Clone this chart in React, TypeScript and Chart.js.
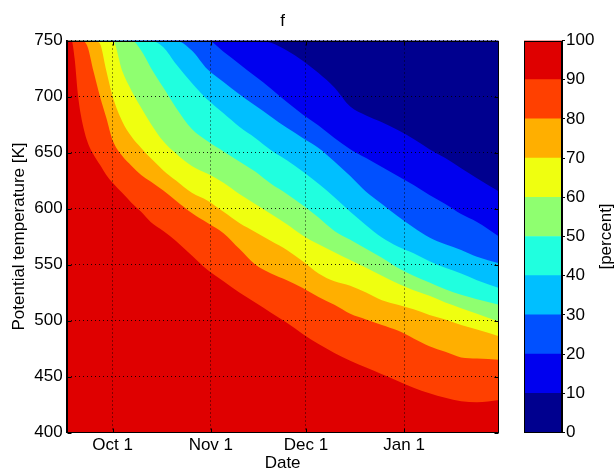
import { useEffect, useRef } from 'react';
import { Chart, registerables } from 'chart.js';

Chart.register(...registerables);

// Days relative to Oct 1
const DAYS = [-15, -13, -12, -11, -10, -8, -6, -4, -2, 0, 3, 6, 9, 12, 16, 20, 25, 30, 35, 40, 45, 50, 55, 60, 65, 70, 75, 80, 85, 90, 95, 100, 105, 110, 115, 122];
const TICK_DAYS = [0, 31, 61, 92];
const TICK_LABELS = ['Oct 1', 'Nov 1', 'Dec 1', 'Jan 1'];
const LEVELS = [0, 10, 20, 30, 40, 50, 60, 70, 80, 90, 100];

// Potential temperature [K] of each contour boundary (value >= level below the line)
const B10 = [750, 750, 750, 750, 750, 750, 750, 750, 750, 750, 750, 750, 750, 750, 750, 750, 750, 750, 750, 750, 750, 748, 741, 732, 721, 708, 691, 683, 677, 670, 662, 653, 645, 636, 627, 615];
const B20 = [750, 750, 750, 750, 750, 750, 750, 750, 750, 750, 750, 750, 750, 750, 750, 750, 750, 750, 740, 729, 718, 707, 695, 684, 674, 663, 653, 645, 637, 629, 621, 612, 604, 595, 588, 575];
const B30 = [750, 750, 750, 750, 750, 750, 750, 750, 750, 750, 750, 750, 750, 750, 750, 750, 741, 724, 713, 702, 692, 682, 672, 663, 654, 642, 629, 615, 604, 593, 583, 574, 568, 563, 557, 551];
const B40 = [750, 750, 750, 750, 750, 750, 750, 750, 750, 750, 750, 750, 750, 750, 744, 729, 712, 697, 685, 673, 663, 652, 643, 633, 622, 610, 597, 585, 574, 566, 560, 553, 547, 542, 536, 529];
const B50 = [750, 750, 750, 750, 750, 750, 750, 750, 750, 750, 750, 750, 741, 726, 708, 690, 671, 660, 651, 642, 633, 622, 613, 603, 592, 580, 572, 564, 556, 547, 540, 534, 528, 523, 519, 514];
const B60 = [750, 750, 750, 750, 750, 750, 750, 750, 750, 750, 723, 705, 690, 676, 660, 649, 638, 631, 623, 613, 604, 595, 586, 576, 568, 561, 554, 547, 540, 533, 527, 522, 516, 511, 506, 499];
const B70 = [750, 750, 750, 750, 750, 750, 750, 747, 723, 700, 678, 664, 654, 645, 634, 625, 614, 607, 597, 587, 579, 571, 563, 553, 542, 535, 531, 525, 518, 514, 510, 505, 501, 496, 492, 486];
const B80 = [750, 750, 750, 750, 750, 745, 722, 700, 681, 661, 647, 638, 630, 624, 616, 607, 596, 587, 578, 564, 550, 542, 536, 529, 521, 514, 506, 501, 496, 491, 484, 477, 472, 467, 466, 465];
const B90 = [750, 750, 734, 703, 683, 660, 648, 639, 630, 623, 614, 605, 597, 588, 580, 571, 558, 545, 535, 525, 516, 507, 498, 488, 479, 471, 464, 458, 452, 446, 440, 435, 431, 428, 427, 429];

const BOUNDARIES = [B10, B20, B30, B40, B50, B60, B70, B80, B90];

const BAND_COLORS = [
  'rgb(0,0,143)',
  'rgb(0,0,239)',
  'rgb(0,80,255)',
  'rgb(0,191,255)',
  'rgb(32,255,223)',
  'rgb(143,255,112)',
  'rgb(239,255,16)',
  'rgb(255,175,0)',
  'rgb(255,64,0)',
  'rgb(223,0,0)',
];

const FONT = "'Liberation Sans', Arial, Helvetica, sans-serif";
const FS = 17;

const boxPlugin = {
  id: 'boxAndTicks',
  beforeDatasetsDraw(chart: any, _args: any, opts: any) {
    if (!opts || !opts.background) return;
    const { ctx, chartArea } = chart;
    ctx.save();
    ctx.fillStyle = opts.background;
    ctx.fillRect(chartArea.left, chartArea.top, chartArea.right - chartArea.left, chartArea.bottom - chartArea.top);
    ctx.restore();
  },
  afterDraw(chart: any, _args: any, opts: any) {
    const { ctx, chartArea } = chart;
    const l = Math.round(chartArea.left) + 0.5;
    const t = Math.round(chartArea.top) + 0.5;
    const r = Math.round(chartArea.right) - 0.5;
    const b = Math.round(chartArea.bottom) - 0.5;
    ctx.save();
    ctx.strokeStyle = '#000';
    ctx.lineWidth = 1;
    ctx.strokeRect(l, t, r - l, b - t);
    if (opts && opts.inwardTicks) {
      const len = 4;
      ctx.beginPath();
      const xs = chart.scales.x;
      xs.ticks.forEach((tk: any) => {
        const px = Math.round(xs.getPixelForValue(tk.value)) + 0.5;
        ctx.moveTo(px, b);
        ctx.lineTo(px, b - len);
        ctx.moveTo(px, t);
        ctx.lineTo(px, t + len);
      });
      const ys = chart.scales.y;
      ys.ticks.forEach((tk: any) => {
        const py = Math.round(ys.getPixelForValue(tk.value)) + 0.5;
        ctx.moveTo(l, py);
        ctx.lineTo(l + len, py);
        ctx.moveTo(r, py);
        ctx.lineTo(r - len, py);
      });
      ctx.stroke();
    }
    ctx.restore();
  },
};

export default function App() {
  const mainRef = useRef<HTMLCanvasElement>(null);
  const barRef = useRef<HTMLCanvasElement>(null);
  const labRef = useRef<HTMLCanvasElement>(null);

  useEffect(() => {
    Chart.defaults.font.family = FONT;
    Chart.defaults.font.size = FS;
    Chart.defaults.color = '#000';

    const datasets = BOUNDARIES.map((bnd, k) => ({
      label: `${LEVELS[k + 1]}-${LEVELS[k + 2]}`,
      data: DAYS.map((d, i) => ({ x: d, y: bnd[i] })),
      backgroundColor: BAND_COLORS[k + 1],
      borderColor: 'rgba(0,0,0,0)',
      borderWidth: 0,
      pointRadius: 0,
      cubicInterpolationMode: 'monotone',
      fill: 'start',
      order: BOUNDARIES.length - 1 - k,
    }));

    const gridOpts = { color: 'rgba(0,0,0,0.85)', lineWidth: 1, drawTicks: false, z: 1 };
    const borderOpts = { display: true, color: '#000', width: 1, dash: [1, 3], z: 1 };

    const main = new Chart(mainRef.current!, {
      type: 'line',
      data: { datasets } as any,
      plugins: [boxPlugin],
      options: {
        responsive: false,
        animation: false,
        layout: { padding: { left: 0, right: 115.5, top: 0, bottom: 0 } },
        plugins: {
          legend: { display: false },
          tooltip: { enabled: false },
          title: {
            display: true,
            text: 'f',
            fullSize: false,
            color: '#000',
            font: { size: FS, weight: 'normal', family: FONT },
            padding: { top: 11.2, bottom: 8.9 },
          },
          boxAndTicks: { background: BAND_COLORS[0], inwardTicks: true },
        } as any,
        scales: {
          x: {
            type: 'linear',
            min: -14.5,
            max: 121.8,
            afterBuildTicks: (s: any) => {
              s.ticks = TICK_DAYS.map((v) => ({ value: v }));
            },
            afterFit: (s: any) => {
              s.height = 37.5;
            },
            ticks: {
              autoSkip: false,
              maxRotation: 0,
              padding: 3,
              color: '#000',
              callback: (v: any) => {
                const i = TICK_DAYS.indexOf(Number(v));
                return i >= 0 ? TICK_LABELS[i] : '';
              },
            },
            grid: gridOpts,
            border: borderOpts,
            title: {
              display: true,
              text: 'Date',
              color: '#000',
              font: { size: FS, lineHeight: 1 },
              padding: { top: 0, bottom: -2 },
            },
          },
          y: {
            type: 'linear',
            min: 400,
            max: 750,
            afterFit: (s: any) => {
              s.width = 66.7;
            },
            ticks: { stepSize: 50, padding: 4, color: '#000' },
            grid: gridOpts,
            border: borderOpts,
            title: {
              display: true,
              text: 'Potential temperature [K]',
              color: '#000',
              font: { size: FS },
              padding: { top: 9.3, bottom: 0 },
            },
          },
        } as any,
      },
    });

    const bar = new Chart(barRef.current!, {
      type: 'bar',
      data: {
        labels: [''],
        datasets: BAND_COLORS.map((c, k) => ({
          label: `${LEVELS[k]}-${LEVELS[k + 1]}`,
          data: [LEVELS[k + 1] - LEVELS[k]],
          backgroundColor: c,
          borderWidth: 0,
          barPercentage: 1,
          categoryPercentage: 1,
          stack: 'cb',
        })),
      },
      plugins: [boxPlugin],
      options: {
        responsive: false,
        animation: false,
        layout: { padding: { left: 24, top: 40.5, bottom: 37.5, right: 0 } },
        plugins: {
          legend: { display: false },
          tooltip: { enabled: false },
          boxAndTicks: { inwardTicks: false },
        } as any,
        scales: {
          x: { display: false, stacked: true },
          y: {
            position: 'right',
            stacked: true,
            min: LEVELS[0],
            max: LEVELS[LEVELS.length - 1],
            afterFit: (s: any) => {
              s.width = 52;
            },
            ticks: { stepSize: 10, padding: 1, color: '#000' },
            grid: { drawOnChartArea: false, drawTicks: true, tickLength: 3, color: '#000', z: 1 },
            border: { display: true, color: '#000', z: 1 },
          },
        } as any,
      },
    });

    const lab = new Chart(labRef.current!, {
      type: 'bar',
      data: { labels: [], datasets: [] },
      options: {
        responsive: false,
        animation: false,
        layout: { padding: { top: 3, bottom: 0, left: 0, right: 0 } },
        plugins: {
          legend: { display: false },
          tooltip: { enabled: false },
          title: {
            display: true,
            position: 'left',
            text: '[percent]',
            color: '#000',
            font: { size: FS, weight: 'normal', family: FONT },
            padding: { top: 5.8, bottom: 0 },
          },
        } as any,
        scales: { x: { display: false }, y: { display: false } },
      },
    });

    return () => {
      main.destroy();
      bar.destroy();
      lab.destroy();
    };
  }, []);

  return (
    <div style={{ position: 'absolute', left: 0, top: 0, width: 614, height: 470, background: '#fff' }}>
      <canvas ref={mainRef} width={614} height={470} style={{ position: 'absolute', left: 0, top: 0 }} />
      <canvas ref={barRef} width={114} height={470} style={{ position: 'absolute', left: 500, top: 0 }} />
      <canvas ref={labRef} width={30} height={470} style={{ position: 'absolute', left: 590, top: 0 }} />
    </div>
  );
}
